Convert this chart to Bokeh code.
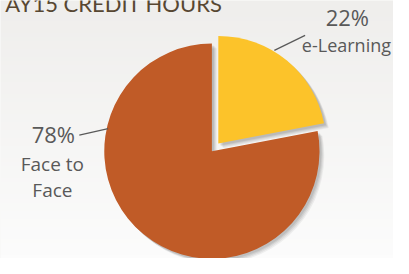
import numpy as np
from bokeh.plotting import figure
from bokeh.models import Range1d, ColumnDataSource
from bokeh.core.properties import value
from bokeh.embed import file_html
from bokeh.resources import INLINE

# ---- data ----
title = "AY15 CREDIT HOURS"
categories = ["e-Learning", "Face to Face"]
shares = [22, 78]
pct_labels = ["22%", "78%"]
colors = ["#FCC32A", "#C05B27"]

W, H = 409, 274
FW, FH = 393, 258
p = figure(width=FW, height=FH, output_backend="svg", toolbar_location=None,
           x_range=Range1d(0, W), y_range=Range1d(0, H), min_border=0)
p.axis.visible = False
p.grid.visible = False
p.outline_line_color = None
p.background_fill_color = "#F4F3F1"
p.border_fill_color = "#F4F3F1"

# background gradient
n = 64
top = np.array([239, 238, 236]); bot = np.array([252, 252, 252])
img = np.zeros((n, 1), dtype=np.uint32)
view = img.view(dtype=np.uint8).reshape((n, 1, 4))
for i in range(n):
    t = i / (n - 1)  # i=0 is bottom
    c = bot * (1 - t) + top * t
    view[i, 0, :3] = c.astype(np.uint8)
    view[i, 0, 3] = 255
p.image_rgba(image=[img], x=0, y=0, dw=W, dh=H)

def Y(y):  # image y -> data y
    return H - y

def TY(y, fs):  # baseline position compensated for renderer offset
    return H - y + 0.4 * fs * H / FH

# pie geometry
cx, cy, r = 220, Y(160), 112
fr = np.array(shares) / sum(shares)
start = np.pi / 2 - np.cumsum(fr) * 2 * np.pi  # clockwise from 12 o'clock
end = start + fr * 2 * np.pi
mid = (start + end) / 2
explode = np.array([10.5, 0.0])
xs = cx + explode * np.cos(mid)
ys = cy + explode * np.sin(mid)

src = ColumnDataSource(dict(x=xs, y=ys, s=start, e=end, c=colors))
# soft shadow
for off, a in [(5, 0.05), (4, 0.06), (3, 0.07), (2, 0.08)]:
    p.wedge(x=xs + off, y=ys - off, radius=r, start_angle=start, end_angle=end,
            color="#000000", alpha=a, line_color=None)
p.wedge(x="x", y="y", radius=r, start_angle="s", end_angle="e",
        fill_color="c", line_color=None, source=src)

txt_col = "#595959"
font = value("Open Sans")

# title
p.text(x=[5], y=[TY(13, 22)], text=[title], text_font=value("Lato"),
       text_font_size="22px", text_color="#574732", text_baseline="alphabetic")

# labels
p.text(x=[361], y=[TY(27, 22)], text=[pct_labels[0]], text_font=font,
       text_font_size="22px", text_color=txt_col, text_align="center",
       text_baseline="alphabetic")
p.text(x=[360], y=[TY(55, 18)], text=[categories[0]], text_font=font,
       text_font_size="18px", text_color=txt_col, text_align="center",
       text_baseline="alphabetic")
p.text(x=[55], y=[TY(151, 22)], text=[pct_labels[1]], text_font=font,
       text_font_size="22px", text_color=txt_col, text_align="center",
       text_baseline="alphabetic")
p.text(x=[54, 54], y=[TY(182, 19), TY(209, 19)], text=["Face to", "Face"], text_font=font,
       text_font_size="19px", text_color=txt_col, text_align="center",
       text_baseline="alphabetic")

# leader lines
p.line(x=[285, 317], y=[Y(53), Y(37)], line_color=txt_col, line_width=1.2)
p.line(x=[82, 112], y=[Y(143), Y(136)], line_color=txt_col, line_width=1.2)

open("out.html", "w").write(file_html(p, INLINE))
